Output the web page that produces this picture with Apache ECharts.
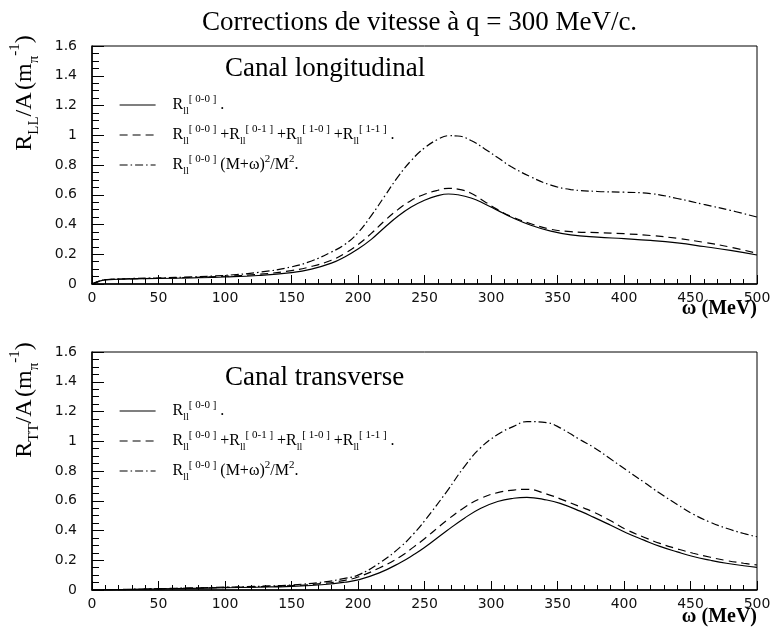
<!DOCTYPE html>
<html><head><meta charset="utf-8">
<script src="https://cdn.jsdelivr.net/npm/echarts@6/dist/echarts.min.js"></script>
<style>html,body{margin:0;padding:0;background:#fff}#c{width:775px;height:637px}</style>
</head><body><div id="c"></div>
<script>
// ---- Data ----
const omegaL = [0,5,10,20,30,50,75,100,125,150,165,180,190,200,210,220,230,240,250,260,268,275,285,295,305,315,330,345,360,380,400,420,440,460,480,500];
const longSolid = [0,0.018,0.028,0.032,0.034,0.037,0.041,0.047,0.057,0.077,0.1,0.14,0.182,0.235,0.3,0.38,0.455,0.517,0.563,0.594,0.605,0.6,0.578,0.54,0.495,0.45,0.395,0.355,0.33,0.315,0.305,0.293,0.276,0.252,0.226,0.195];
const longDashed = [0,0.018,0.029,0.033,0.035,0.039,0.044,0.052,0.065,0.09,0.118,0.16,0.205,0.265,0.34,0.425,0.5,0.562,0.603,0.63,0.643,0.638,0.61,0.555,0.5,0.455,0.405,0.368,0.352,0.345,0.338,0.326,0.307,0.28,0.248,0.206];
const longDashDot = [0,0.018,0.029,0.034,0.037,0.041,0.048,0.058,0.078,0.115,0.155,0.215,0.265,0.345,0.46,0.59,0.72,0.83,0.915,0.972,0.997,0.995,0.965,0.91,0.85,0.79,0.72,0.665,0.635,0.622,0.617,0.608,0.575,0.535,0.495,0.45];

const omegaT = [0,25,50,75,100,125,150,175,190,200,216,232,242,250,267,280,292,305,317,327,342,352,367,377,390,402,415,427,440,452,465,477,490,500];
const transSolid = [0,0.003,0.007,0.011,0.015,0.019,0.025,0.037,0.052,0.068,0.115,0.185,0.238,0.285,0.4,0.483,0.548,0.595,0.617,0.623,0.605,0.582,0.53,0.49,0.435,0.383,0.335,0.293,0.256,0.225,0.2,0.18,0.163,0.152];
const transDashed = [0,0.003,0.008,0.012,0.017,0.022,0.029,0.045,0.065,0.087,0.148,0.225,0.29,0.345,0.47,0.555,0.615,0.655,0.672,0.677,0.645,0.613,0.56,0.524,0.465,0.405,0.355,0.313,0.277,0.247,0.22,0.198,0.18,0.168];
const transDashDot = [0,0.004,0.009,0.014,0.019,0.025,0.034,0.055,0.078,0.1,0.18,0.29,0.38,0.465,0.665,0.83,0.955,1.045,1.1,1.132,1.125,1.09,1.01,0.96,0.88,0.805,0.725,0.65,0.575,0.51,0.455,0.415,0.38,0.358];

const titleText = 'Corrections de vitesse à q = 300 MeV/c.';
const panelTitles = ['Canal longitudinal', 'Canal transverse'];

// ---- Layout ----
const SERIF = 'Liberation Serif';
const grids = [
  {left: 92, top: 46, width: 665, height: 238},
  {left: 92, top: 352, width: 665, height: 238}
];
const dashTypes = ['solid', [8, 5], [8, 3, 1.5, 3]];

const legendRich = {
  sp: {width: 12, fontSize: 10},
  R: {fontFamily: SERIF, fontSize: 16, lineHeight: 22, color: '#000'},
  s: {fontFamily: SERIF, fontSize: 10, lineHeight: 9, verticalAlign: 'bottom', color: '#000'},
  p: {fontFamily: SERIF, fontSize: 11, lineHeight: 14, verticalAlign: 'top', color: '#000'},
  t: {fontFamily: SERIF, fontSize: 16, lineHeight: 22, color: '#000'},
  e: {fontFamily: SERIF, fontSize: 11, lineHeight: 13, verticalAlign: 'top', color: '#000'}
};
const legendTexts = [
  '{sp|}{R|R}{s|ll}{p|[ 0-0 ]}{t| .}',
  '{sp|}{R|R}{s|ll}{p|[ 0-0 ]}{t| +R}{s|ll}{p|[ 0-1 ]}{t| +R}{s|ll}{p|[ 1-0 ]}{t| +R}{s|ll}{p|[ 1-1 ]}{t| .}',
  '{sp|}{R|R}{s|ll}{p|[ 0-0 ]}{t| (M+ω)}{e|2}{t|/M}{e|2}{t|.}'
];
const namesL = ['L0', 'L1', 'L2'];
const namesT = ['T0', 'T1', 'T2'];

function xAx(gi) {
  return {
    type: 'value', gridIndex: gi, min: 0, max: 500, interval: 50,
    axisLine: {show: true, onZero: false, lineStyle: {color: '#000', width: 1.5}},
    axisTick: {show: true, inside: true, length: 9, lineStyle: {color: '#000', width: 1}},
    minorTick: {show: true, splitNumber: 5, length: 5, lineStyle: {color: '#000', width: 1}},
    axisLabel: {color: '#111', fontFamily: 'DejaVu Sans', fontSize: 14, margin: 7},
    splitLine: {show: false}, minorSplitLine: {show: false}
  };
}
function yAx(gi) {
  return {
    type: 'value', gridIndex: gi, min: 0, max: 1.6, interval: 0.2,
    axisLine: {show: true, onZero: false, lineStyle: {color: '#000', width: 1.5}},
    axisTick: {show: true, inside: true, length: 12, lineStyle: {color: '#000', width: 1}},
    minorTick: {show: true, splitNumber: 4, length: 7, lineStyle: {color: '#000', width: 1}},
    axisLabel: {color: '#111', fontFamily: 'DejaVu Sans', fontSize: 14, margin: 15},
    splitLine: {show: false}, minorSplitLine: {show: false}
  };
}
function mkSeries(name, gi, xs, ys, k) {
  return {
    name: name, type: 'line', xAxisIndex: gi, yAxisIndex: gi,
    data: xs.map((x, i) => [x, ys[i]]),
    smooth: 0.45, symbol: 'none', showSymbol: false, silent: true,
    lineStyle: {color: '#000', width: 1.2, type: dashTypes[k]},
    itemStyle: {color: '#000'}
  };
}
function mkLegend(names, top) {
  return {
    orient: 'vertical', left: 119, top: top, padding: 0, itemGap: 8,
    itemWidth: 36, itemHeight: 14, selectedMode: false,
    itemStyle: {opacity: 0, color: 'rgba(0,0,0,0)', borderWidth: 0},
    lineStyle: {width: 1.2, color: '#000', opacity: 1},
    data: names,
    formatter: n => legendTexts[names.indexOf(n)],
    textStyle: {rich: legendRich, color: '#000'}
  };
}
const yNameText = (sub) => '{R|R}{s|' + sub + '}{R|/A}{t| }{R|(m}{s|π}{e|-1}{R|)}';
const yNameRich = {
  R: {fontFamily: SERIF, fontSize: 24, lineHeight: 34, color: '#000'},
  t: {fontFamily: SERIF, fontSize: 10, lineHeight: 34, color: '#000'},
  s: {fontFamily: SERIF, fontSize: 15, lineHeight: 14, verticalAlign: 'bottom', color: '#000'},
  e: {fontFamily: SERIF, fontSize: 15, lineHeight: 16, verticalAlign: 'top', color: '#000'}
};

const chart = echarts.init(document.getElementById('c'), null, {renderer: 'canvas'});
chart.setOption({
  animation: false,
  backgroundColor: '#fff',
  title: {
    text: titleText, left: 197, top: 4,
    textStyle: {fontFamily: SERIF, fontSize: 27, fontWeight: 'normal', color: '#000'}
  },
  grid: grids.map(g => Object.assign({show: true, borderColor: '#000', borderWidth: 1, backgroundColor: 'transparent'}, g)),
  xAxis: [xAx(0), xAx(1)],
  yAxis: [yAx(0), yAx(1)],
  legend: [mkLegend(namesL, 94), mkLegend(namesT, 400)],
  series: [
    mkSeries(namesL[0], 0, omegaL, longSolid, 0),
    mkSeries(namesL[1], 0, omegaL, longDashed, 1),
    mkSeries(namesL[2], 0, omegaL, longDashDot, 2),
    mkSeries(namesT[0], 1, omegaT, transSolid, 0),
    mkSeries(namesT[1], 1, omegaT, transDashed, 1),
    mkSeries(namesT[2], 1, omegaT, transDashDot, 2)
  ],
  graphic: [
    {type: 'text', x: 225, y: 69, style: {text: panelTitles[0], fontFamily: SERIF, fontSize: 27, fill: '#000', verticalAlign: 'middle'}},
    {type: 'text', x: 225, y: 378, style: {text: panelTitles[1], fontFamily: SERIF, fontSize: 27, fill: '#000', verticalAlign: 'middle'}},
    {type: 'text', x: 25, y: 93, rotation: Math.PI / 2, style: {text: yNameText('LL'), rich: yNameRich, align: 'center', verticalAlign: 'middle'}},
    {type: 'text', x: 25, y: 400, rotation: Math.PI / 2, style: {text: yNameText('TT'), rich: yNameRich, align: 'center', verticalAlign: 'middle'}},
    {type: 'text', x: 757, y: 309, style: {text: 'ω (MeV)', fontFamily: SERIF, fontSize: 20, fontWeight: 'bold', fill: '#000', align: 'right', verticalAlign: 'middle'}},
    {type: 'text', x: 757, y: 617, style: {text: 'ω (MeV)', fontFamily: SERIF, fontSize: 20, fontWeight: 'bold', fill: '#000', align: 'right', verticalAlign: 'middle'}}
  ]
});
</script></body></html>
